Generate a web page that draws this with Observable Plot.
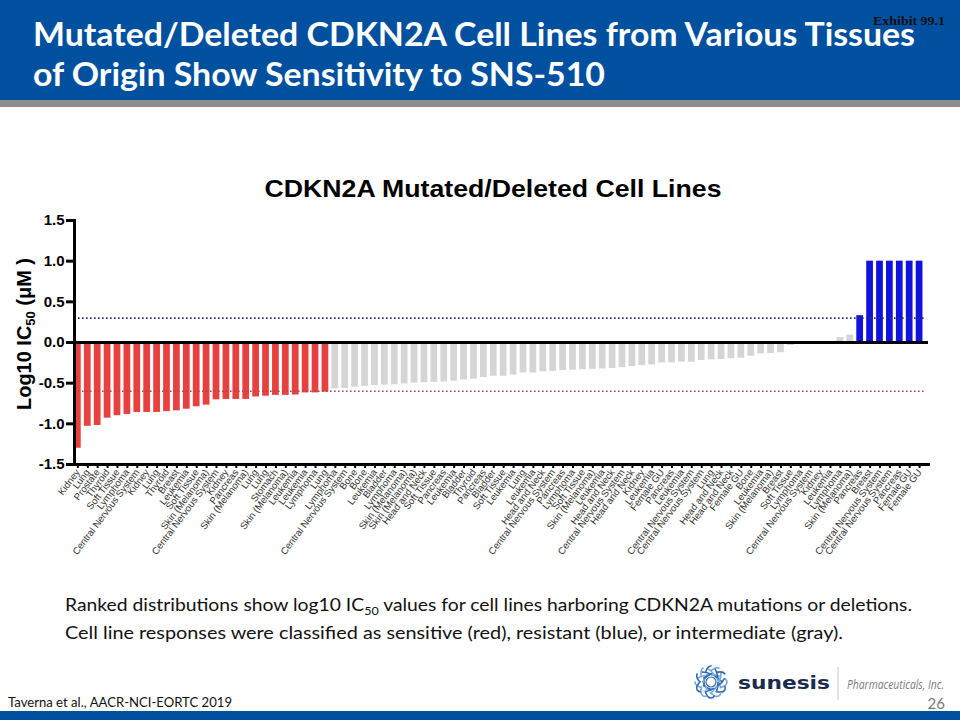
<!DOCTYPE html>
<html>
<head>
<meta charset="utf-8">
<script src="https://cdn.jsdelivr.net/npm/d3@7"></script>
<script src="https://cdn.jsdelivr.net/npm/@observablehq/plot@0.6"></script>
<style>
  html, body { margin: 0; padding: 0; background: #fff; }
  #page { position: relative; width: 960px; height: 720px; overflow: hidden; background: #fff; }
  .abs { position: absolute; left: 0; top: 0; }
</style>
</head>
<body>
<div id="page">
  <div class="abs" style="width:960px;height:100px;background:#0050A0;"></div>
  <div class="abs" style="top:100px;width:960px;height:7px;background:#8C8C8C;"></div>
  <div class="abs" style="top:711px;width:960px;height:9px;background:#0050A0;"></div>
  <div id="chart" class="abs" style="top:160px;"></div>
  <svg id="overlay" class="abs" width="960" height="720" style="pointer-events:none;"></svg>
</div>
<script>
// ---- Data ----
const labels = [
  "Kidney","Lung","Prostate","Thyroid","Soft Tissue","Lymphoma","Central Nervous System","Kidney","Lung","Thyroid",
  "Breast","Leukemia","Soft Tissue","Skin (Melanoma)","Central Nervous System","Kidney","Pancreas","Skin (Melanoma)","Lung","Lung",
  "Stomach","Skin (Melanoma)","Leukemia","Leukemia","Lymphoma","Lung","Lymphoma","Central Nervous System","Bone","Bone",
  "Leukemia","Bladder","Lymphoma","Skin (Melanoma)","Skin (Melanoma)","Head and Neck","Soft Tissue","Pancreas","Leukemia","Bladder",
  "Thyroid","Pancreas","Bladder","Soft Tissue","Leukemia","Lung","Leukemia","Head and Neck","Central Nervous System","Pancreas",
  "Lymphoma","Soft Tissue","Skin (Melanoma)","Leukemia","Head and Neck","Central Nervous System","Head and Neck","Kidney","Leukemia","Female GU",
  "Pancreas","Leukemia","Central Nervous System","Central Nervous System","Lung","Head and Neck","Head and Neck","Female GU","Bone","Leukemia",
  "Skin (Melanoma)","Breast","Soft Tissue","Lymphoma","Central Nervous System","Kidney","Leukemia","Lymphoma","Skin (Melanoma)","Pancreas",
  "Breast","Central Nervous System","Central Nervous System","Pancreas","Female GU","Female GU"
];
const values = [
  -1.30,-1.03,-1.02,-0.93,-0.90,-0.885,-0.86,-0.86,-0.86,-0.85,
  -0.84,-0.82,-0.79,-0.77,-0.705,-0.70,-0.70,-0.70,-0.67,-0.66,
  -0.65,-0.65,-0.645,-0.62,-0.62,-0.61,-0.57,-0.565,-0.55,-0.54,
  -0.53,-0.525,-0.52,-0.51,-0.50,-0.495,-0.49,-0.485,-0.475,-0.46,
  -0.45,-0.43,-0.415,-0.415,-0.40,-0.375,-0.375,-0.36,-0.355,-0.345,
  -0.34,-0.335,-0.33,-0.325,-0.32,-0.31,-0.295,-0.285,-0.275,-0.25,
  -0.25,-0.242,-0.242,-0.221,-0.213,-0.209,-0.20,-0.193,-0.168,-0.14,
  -0.135,-0.125,-0.037,0,0,0,0,0.06,0.09,0.33,
  1.0,1.0,1.0,1.0,1.0,1.0
];
// response class per cell line (10 per row): S = sensitive, I = intermediate, R = resistant
const classes = [
  "S","S","S","S","S","S","S","S","S","S",
  "S","S","S","S","S","S","S","S","S","S",
  "S","S","S","S","S","S","I","I","I","I",
  "I","I","I","I","I","I","I","I","I","I",
  "I","I","I","I","I","I","I","I","I","I",
  "I","I","I","I","I","I","I","I","I","I",
  "I","I","I","I","I","I","I","I","I","I",
  "I","I","I","I","I","I","I","I","I","R",
  "R","R","R","R","R","R"
];
const classColors = { S: "#E8403F", I: "#D5D5D5", R: "#1212DE" };
const yTicks = [-1.5, -1.0, -0.5, 0.0, 0.5, 1.0, 1.5];
const resistantThreshold = 0.3;
const sensitiveThreshold = -0.6;

const data = labels.map((label, i) => ({ i, label, value: values[i], cls: classes[i] }));

const chart = Plot.plot({
  width: 960,
  height: 420,
  marginTop: 60,
  marginBottom: 116,
  marginLeft: 74,
  marginRight: 32,
  style: { fontFamily: "'Liberation Sans', Arial, sans-serif", background: "transparent", overflow: "visible" },
  x: { type: "band", domain: d3.range(labels.length), paddingInner: 0.32, paddingOuter: 0.28, align: 0, axis: null },
  y: { domain: [-1.5, 1.5], axis: null },
  marks: [
    Plot.barY(data, { x: "i", y: "value", fill: d => classColors[d.cls] }),
    Plot.ruleY([resistantThreshold], { stroke: "#27306E", strokeWidth: 1.6, strokeDasharray: "1.6,2.4", insetLeft: 4, insetRight: 2 }),
    Plot.ruleY([sensitiveThreshold], { stroke: "#A8484A", strokeWidth: 1.6, strokeDasharray: "1.6,2.4", insetLeft: 4, insetRight: 2 }),
    Plot.ruleY([0], { stroke: "#000", strokeWidth: 3 }),
    Plot.axisY({ ticks: yTicks, tickFormat: d => d.toFixed(1), tickSize: 8, tickPadding: 2, strokeWidth: 3, fontSize: 15, fontWeight: "bold", fill: "#000", label: null }),
    Plot.axisX({ tickFormat: i => labels[i], tickRotate: -53, tickSize: 4, tickPadding: 2, strokeWidth: 2, fontSize: 9.6, fill: "#333", label: null }),
    Plot.frame({ anchor: "left", strokeWidth: 3, stroke: "#000" }),
    Plot.frame({ anchor: "bottom", strokeWidth: 3, stroke: "#000" })
  ]
});
document.getElementById("chart").appendChild(chart);

// ---- Overlay texts ----
const ov = d3.select("#overlay");
function txt(s, o) {
  const t = ov.append("text").attr("x", o.x).attr("y", o.y)
    .style("font-family", o.font).style("font-size", o.size + "px")
    .style("font-weight", o.weight || "normal").style("font-style", o.style || "normal")
    .attr("fill", o.fill || "#000").attr("text-anchor", o.anchor || "start");
  if (o.len) t.attr("textLength", o.len).attr("lengthAdjust", "spacingAndGlyphs");
  if (o.transform) t.attr("transform", o.transform);
  if (Array.isArray(s)) {
    s.forEach(p => {
      const ts = t.append("tspan").text(p.t);
      if (p.sub) ts.style("font-size", (o.size * 0.65) + "px").attr("dy", o.size * 0.22);
      if (p.after) ts.attr("dy", -o.size * 0.22);
    });
  } else t.text(s);
  return t;
}
const calibri = "Lato, 'Open Sans', sans-serif";
txt("Mutated/Deleted CDKN2A Cell Lines from Various Tissues", { x: 33, y: 46, font: calibri, size: 32, weight: "bold", fill: "#fff", len: 882 });
txt("of Origin Show Sensitivity to SNS-510", { x: 33, y: 86, font: calibri, size: 32, weight: "bold", fill: "#fff", len: 572 });
txt("Exhibit  99.1", { x: 873, y: 25, font: "'Liberation Serif', serif", size: 12, weight: "bold", fill: "#111", len: 72 });

txt("CDKN2A Mutated/Deleted Cell Lines", { x: 493, y: 197, font: "'Liberation Sans', Arial, sans-serif", size: 24, weight: "bold", anchor: "middle", len: 457 });

txt([{ t: "Log10 IC" }, { t: "50", sub: true }, { t: " (μM )", after: true }],
  { x: 0, y: 0, font: "'Liberation Sans', Arial, sans-serif", size: 20, weight: "bold", anchor: "middle", transform: "translate(31,334) rotate(-90)", len: 152 });

txt([{ t: "Ranked distributions show log10 IC" }, { t: "50", sub: true }, { t: " values for cell lines harboring CDKN2A mutations or deletions.", after: true }],
  { x: 65, y: 611, font: calibri, size: 17, fill: "#111", len: 847 });
txt("Cell line responses were classified as sensitive (red), resistant (blue), or intermediate (gray).",
  { x: 65, y: 639, font: calibri, size: 17, fill: "#111", len: 778 });

txt("Taverna et al., AACR-NCI-EORTC 2019", { x: 8, y: 707, font: calibri, size: 14, fill: "#111", len: 224 });

// logo
const lg = ov.append("g").attr("transform", "translate(711,682)");
[0, 30, 60, 90, 120, 150].forEach((a, k) => {
  lg.append("ellipse").attr("rx", 16).attr("ry", 7).attr("fill", "none")
    .attr("stroke", k % 2 ? "#2D6DB5" : "#7FA7D6").attr("stroke-width", 1.6)
    .attr("stroke-dasharray", "10,4").attr("transform", `rotate(${a})`);
});
lg.append("circle").attr("r", 5).attr("fill", "none").attr("stroke", "#2D6DB5").attr("stroke-width", 1.2);
txt("sunesis", { x: 738, y: 689, font: "'DejaVu Sans', sans-serif", size: 17, weight: "bold", fill: "#1B2A4E", len: 92 });
ov.append("line").attr("x1", 838).attr("x2", 838).attr("y1", 667).attr("y2", 700).attr("stroke", "#c8c8c8").attr("stroke-width", 1);
txt("Pharmaceuticals, Inc.", { x: 847, y: 689, font: "'Open Sans', sans-serif", size: 12, style: "italic", fill: "#7a7a7a", len: 97 });
txt("26", { x: 945, y: 709, font: calibri, size: 15, fill: "#777", anchor: "end" });
</script>
</body>
</html>
